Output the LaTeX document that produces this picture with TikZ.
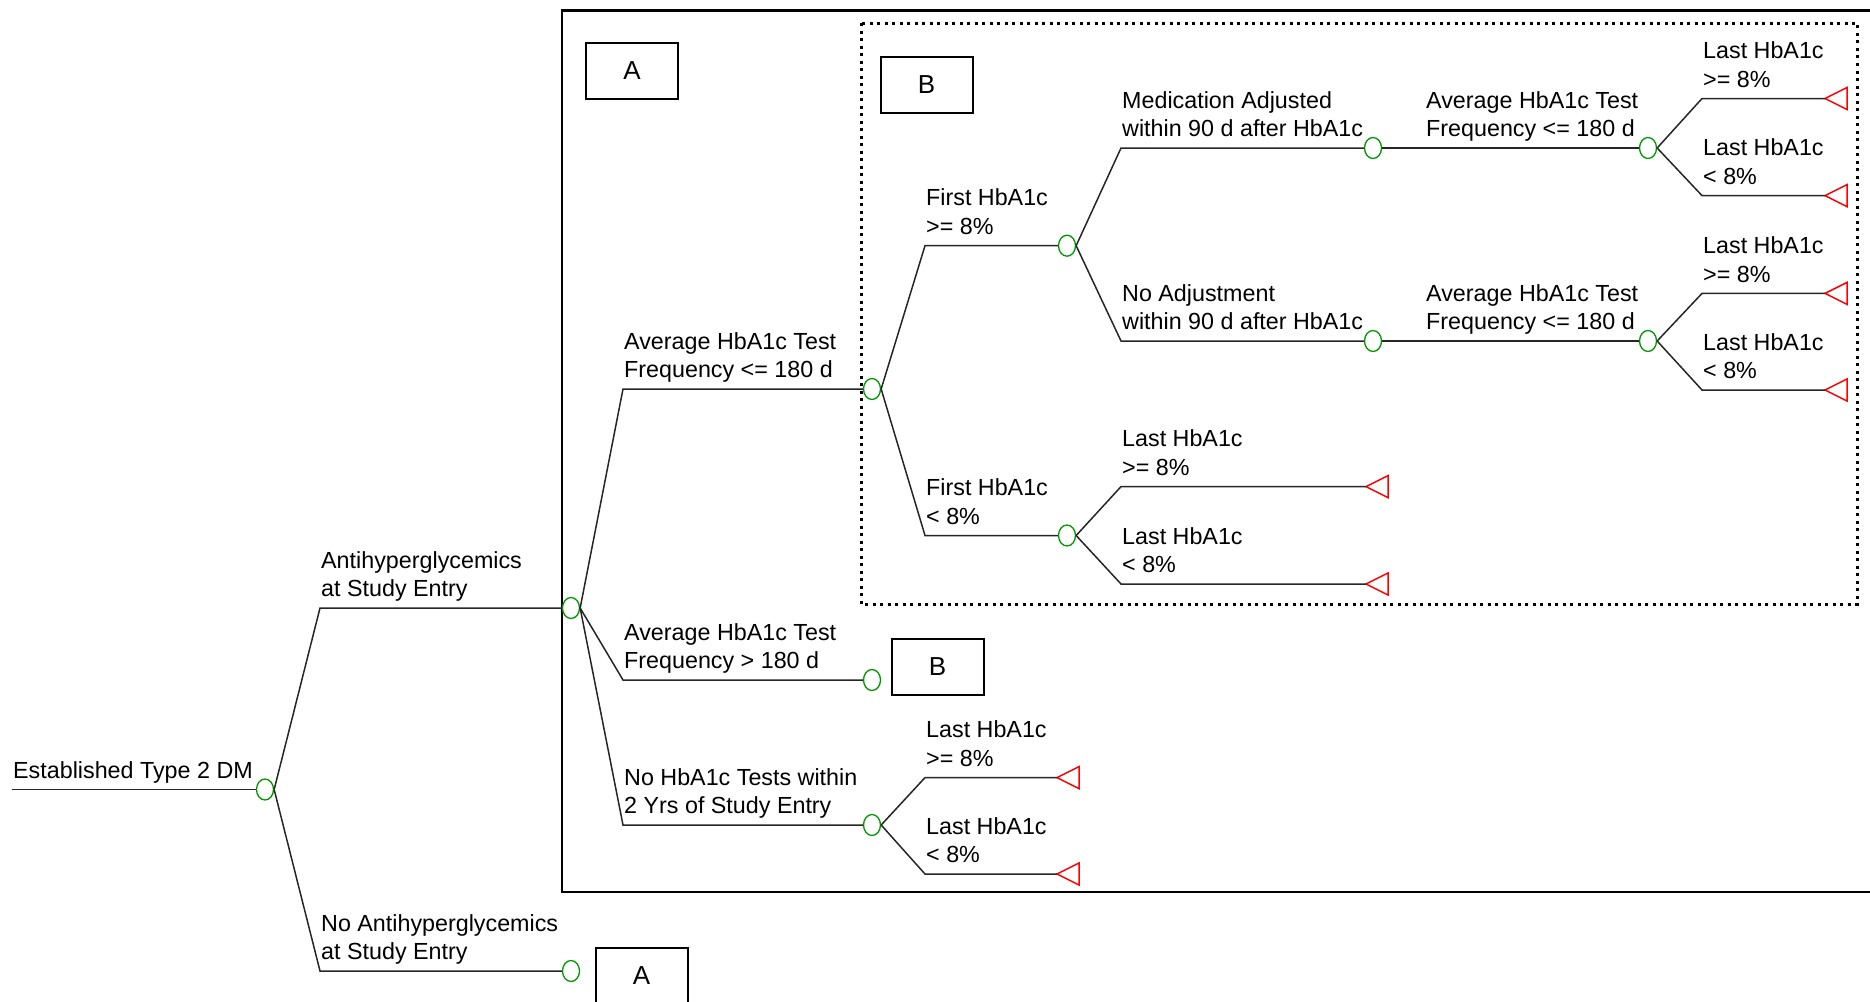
\documentclass[tikz,border=0pt]{standalone}
\usepackage{fontspec}
\setmainfont{Liberation Sans}
\usetikzlibrary{shapes.geometric}
\definecolor{chgreen}{RGB}{0,150,0}
\definecolor{tmred}{RGB}{255,0,0}
\newcommand\termnode[2]{%
  \coordinate (#1) at (#2);
  \draw[termline] (#1) -- ++(22,-11) -- ++(0,22) -- cycle;}
\begin{document}
\begin{tikzpicture}[x=1pt,y=-1pt,
  branch/.style={line width=1.5pt, draw=black!85},
  lbl/.style={anchor=south west, align=left, inner xsep=1pt, inner ysep=2.4pt,
    font=\fontsize{23.3}{28.6}\selectfont, execute at end node=\strut},
  chance/.style={ellipse, draw=chgreen, line width=1.3pt, fill=white,
    minimum width=17pt, minimum height=21pt, inner sep=0pt},
  termline/.style={draw=tmred, line width=1.5pt, line join=miter},
  tagbox/.style={draw, line width=2pt, minimum width=92pt, minimum height=56pt,
    inner sep=0pt, font=\fontsize{26}{30}\selectfont},
  dotbox/.style={line width=3pt, dash pattern=on 3pt off 4.5pt}
]
\useasboundingbox (0,0) rectangle (1870,1001);
\clip (0,0) rectangle (1870,1001);

% frames
\draw[line width=2.5pt] (1890,10.7) -- (562,10.7) -- (562,892) -- (1890,892);
\draw[dotbox] (861,23) rectangle (1857,604);

% tag boxes
\node[tagbox] (tagA1) at (632,71) {A};
\node[tagbox] (tagB1) at (926.5,85) {B};
\node[tagbox] (tagB2) at (937.5,667) {B};
\node[tagbox] (tagA2) at (641.5,976) {A};

% chance nodes
\node[chance] (c0) at (265,789.5) {};
\node[chance] (c1) at (571,608) {};
\node[chance] (c2) at (571,971) {};
\node[chance] (c3) at (872,389) {};
\node[chance] (c4) at (872,680) {};
\node[chance] (c5) at (872,825) {};
\node[chance] (c6) at (1067,245.7) {};
\node[chance] (c7) at (1067,535.5) {};
\node[chance] (c8) at (1373,148) {};
\node[chance] (c9) at (1373,341) {};
\node[chance] (c10) at (1648,148) {};
\node[chance] (c11) at (1648,341) {};

% terminal nodes (tip of each triangle)
\termnode{t1}{1825,98.5}
\termnode{t2}{1825,195.6}
\termnode{t3}{1825,293.4}
\termnode{t4}{1825,390}
\termnode{t5}{1366,486.6}
\termnode{t6}{1366,584}
\termnode{t7}{1057,777.6}
\termnode{t8}{1057,874}

% connectors
\coordinate (start) at (12,789.5);
\draw[branch] (start) -- (c0.west);
\draw[branch] (c0.east) -- (320,608) -- (c1.west);
\draw[branch] (c0.east) -- (320,971) -- (c2.west);
\draw[branch] (c1.east) -- (623,389) -- (c3.west);
\draw[branch] (c1.east) -- (623,680) -- (c4.west);
\draw[branch] (c1.east) -- (623,825) -- (c5.west);
\draw[branch] (c5.east) -- (925,777.6) -- (t7);
\draw[branch] (c5.east) -- (925,874) -- (t8);
\draw[branch] (c3.east) -- (925,245.7) -- (c6.west);
\draw[branch] (c3.east) -- (925,535.5) -- (c7.west);
\draw[branch] (c6.east) -- (1121,148) -- (c8.west);
\draw[branch] (c6.east) -- (1121,341) -- (c9.west);
\draw[branch] (c8.east) -- (c10.west);
\draw[branch] (c9.east) -- (c11.west);
\draw[branch] (c10.east) -- (1702,98.5) -- (t1);
\draw[branch] (c10.east) -- (1702,195.6) -- (t2);
\draw[branch] (c11.east) -- (1702,293.4) -- (t3);
\draw[branch] (c11.east) -- (1702,390) -- (t4);
\draw[branch] (c7.east) -- (1121,486.6) -- (t5);
\draw[branch] (c7.east) -- (1121,584) -- (t6);

% labels
\node[lbl] (l0) at (12,789.5) {Established Type 2 DM};
\node[lbl] (l1) at (320,608) {Antihyperglycemics\\at Study Entry};
\node[lbl] (l2) at (320,971) {No Antihyperglycemics\\at Study Entry};
\node[lbl] (l3) at (623,389) {Average HbA1c Test\\Frequency <= 180 d};
\node[lbl] (l4) at (623,680) {Average HbA1c Test\\Frequency > 180 d};
\node[lbl] (l5) at (623,825) {No HbA1c Tests within\\2 Yrs of Study Entry};
\node[lbl] (l6) at (925,777.6) {Last HbA1c\\>= 8\%};
\node[lbl] (l7) at (925,874) {Last HbA1c\\< 8\%};
\node[lbl] (l8) at (925,245.7) {First HbA1c\\>= 8\%};
\node[lbl] (l9) at (925,535.5) {First HbA1c\\< 8\%};
\node[lbl] (l10) at (1121,148) {Medication Adjusted\\within 90 d after HbA1c};
\node[lbl] (l11) at (1121,341) {No Adjustment\\within 90 d after HbA1c};
\node[lbl] (l12) at (1425,148) {Average HbA1c Test\\Frequency <= 180 d};
\node[lbl] (l13) at (1425,341) {Average HbA1c Test\\Frequency <= 180 d};
\node[lbl] (l14) at (1702,98.5) {Last HbA1c\\>= 8\%};
\node[lbl] (l15) at (1702,195.6) {Last HbA1c\\< 8\%};
\node[lbl] (l16) at (1702,293.4) {Last HbA1c\\>= 8\%};
\node[lbl] (l17) at (1702,390) {Last HbA1c\\< 8\%};
\node[lbl] (l18) at (1121,486.6) {Last HbA1c\\>= 8\%};
\node[lbl] (l19) at (1121,584) {Last HbA1c\\< 8\%};
\end{tikzpicture}
\end{document}
